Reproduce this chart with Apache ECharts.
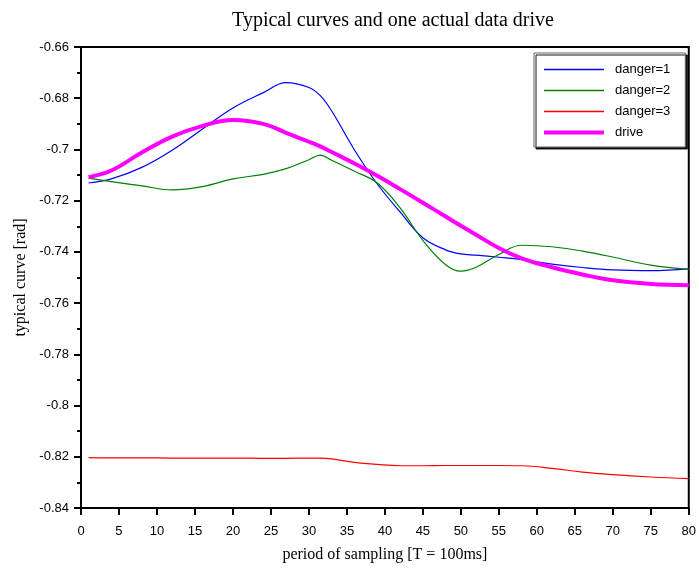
<!DOCTYPE html>
<html>
<head>
<meta charset="utf-8">
<script src="https://cdn.jsdelivr.net/npm/echarts@6/dist/echarts.min.js"></script>
<style>html,body{margin:0;padding:0;background:#fff}#c{width:699px;height:570px}</style>
</head>
<body>
<div id="c"></div>
<script>
var samples = [1, 4, 8, 12, 16, 20, 24, 27, 30, 31.5, 33, 36, 39, 42, 45, 48, 50, 52, 55, 58, 62, 66, 70, 75, 80];
var danger1 = [-0.7131, -0.7115, -0.7070, -0.7003, -0.6920, -0.6838, -0.6778, -0.6739, -0.6758, -0.6790, -0.6850, -0.7002, -0.7135, -0.7244, -0.7345, -0.7392, -0.7408, -0.7413, -0.7421, -0.7430, -0.7448, -0.7461, -0.7470, -0.7473, -0.7466];
var danger2 = [-0.7112, -0.7126, -0.7142, -0.7158, -0.7145, -0.7115, -0.7097, -0.7075, -0.7040, -0.7022, -0.7042, -0.7085, -0.7131, -0.7228, -0.7355, -0.7450, -0.7475, -0.7460, -0.7410, -0.7374, -0.7380, -0.7397, -0.7420, -0.7452, -0.7468];
var danger3 = [-0.8203, -0.8204, -0.8204, -0.8205, -0.8205, -0.8205, -0.8206, -0.8206, -0.8205, -0.8205, -0.8208, -0.8222, -0.8230, -0.8235, -0.8235, -0.8234, -0.8234, -0.8234, -0.8234, -0.8235, -0.8245, -0.8260, -0.8270, -0.8279, -0.8285];
var drive = [-0.7108, -0.7082, -0.7012, -0.6950, -0.6908, -0.6885, -0.6900, -0.6935, -0.6970, -0.6988, -0.7010, -0.7055, -0.7103, -0.7155, -0.7208, -0.7262, -0.7298, -0.7333, -0.7385, -0.7425, -0.7460, -0.7488, -0.7511, -0.7525, -0.7530];
var seriesNames = ['danger=1', 'danger=2', 'danger=3', 'drive'];
var seriesColors = ['#0000ff', '#008000', '#ff0000', '#ff00ff'];
var titleText = 'Typical curves and one actual data drive';
var xName = 'period of sampling [T = 100ms]';
var yName = 'typical curve [rad]';

function pairs(ys) { return samples.map(function (x, i) { return [x, ys[i]]; }); }

var chart = echarts.init(document.getElementById('c'), null, { renderer: 'canvas' });
var serifFont = '"Liberation Serif", "Times New Roman", serif';
var sansFont = '"Liberation Sans", Arial, sans-serif';
var legendWidths = [1.3, 1.5, 1.3, 4];
chart.setOption({
  animation: false,
  backgroundColor: '#fff',
  title: {
    text: titleText, left: 388, top: 6, textAlign: 'center',
    textStyle: { fontFamily: serifFont, fontSize: 20, fontWeight: 'normal', color: '#000' }
  },
  grid: { left: 81, right: 7, top: 47, bottom: 62, show: true, borderColor: '#000', borderWidth: 2, backgroundColor: 'transparent' },
  legend: {
    orient: 'vertical', left: 534, top: 53,
    padding: [10, 15, 8, 8],
    itemWidth: 60, itemHeight: 14, itemGap: 8,
    backgroundColor: '#fff', borderColor: '#666', borderWidth: 1,
    shadowColor: 'rgba(0,0,0,0.9)', shadowBlur: 0, shadowOffsetX: 2, shadowOffsetY: 2,
    itemStyle: { opacity: 0 },
    textStyle: { fontFamily: sansFont, fontSize: 13, color: '#000', padding: [0, 0, 0, 6] },
    data: seriesNames.map(function (n, i) {
      return { name: n, lineStyle: { color: seriesColors[i], width: legendWidths[i] } };
    })
  },
  xAxis: {
    type: 'value', min: 0, max: 80, interval: 5,
    name: xName, nameLocation: 'middle', nameGap: 39,
    nameTextStyle: { fontFamily: serifFont, fontSize: 16, color: '#000' },
    axisLine: { show: true, lineStyle: { color: '#000', width: 2 } },
    axisTick: { show: true, inside: false, length: 7, lineStyle: { color: '#000', width: 2 } },
    axisLabel: { margin: 17, fontFamily: sansFont, fontSize: 13, color: '#000' },
    splitLine: { show: false }
  },
  yAxis: {
    type: 'value', min: -0.84, max: -0.66, interval: 0.02,
    name: yName, nameLocation: 'middle', nameGap: 49,
    nameTextStyle: { fontFamily: serifFont, fontSize: 16, color: '#000' },
    axisLine: { show: true, lineStyle: { color: '#000', width: 2 } },
    axisTick: { show: true, inside: false, length: 7, lineStyle: { color: '#000', width: 2 } },
    minorTick: { show: true, splitNumber: 2, length: 4, lineStyle: { color: '#000', width: 2 } },
    axisLabel: { margin: 12, fontFamily: sansFont, fontSize: 13, color: '#000',
      formatter: function (v) { return String(parseFloat(v.toFixed(4))); } },
    splitLine: { show: false }
  },
  series: [
    { name: seriesNames[0], type: 'line', data: pairs(danger1), smooth: 0.4, symbol: 'none', lineStyle: { color: seriesColors[0], width: 1.2 }, itemStyle: { color: seriesColors[0] }, z: 3 },
    { name: seriesNames[1], type: 'line', data: pairs(danger2), smooth: 0.4, symbol: 'none', lineStyle: { color: seriesColors[1], width: 1.2 }, itemStyle: { color: seriesColors[1] }, z: 3 },
    { name: seriesNames[2], type: 'line', data: pairs(danger3), smooth: 0.4, symbol: 'none', lineStyle: { color: seriesColors[2], width: 1.2 }, itemStyle: { color: seriesColors[2] }, z: 3 },
    { name: seriesNames[3], type: 'line', data: pairs(drive), smooth: 0.4, symbol: 'none', lineStyle: { color: seriesColors[3], width: 4 }, itemStyle: { color: seriesColors[3] }, z: 4 }
  ]
});
</script>
</body>
</html>
